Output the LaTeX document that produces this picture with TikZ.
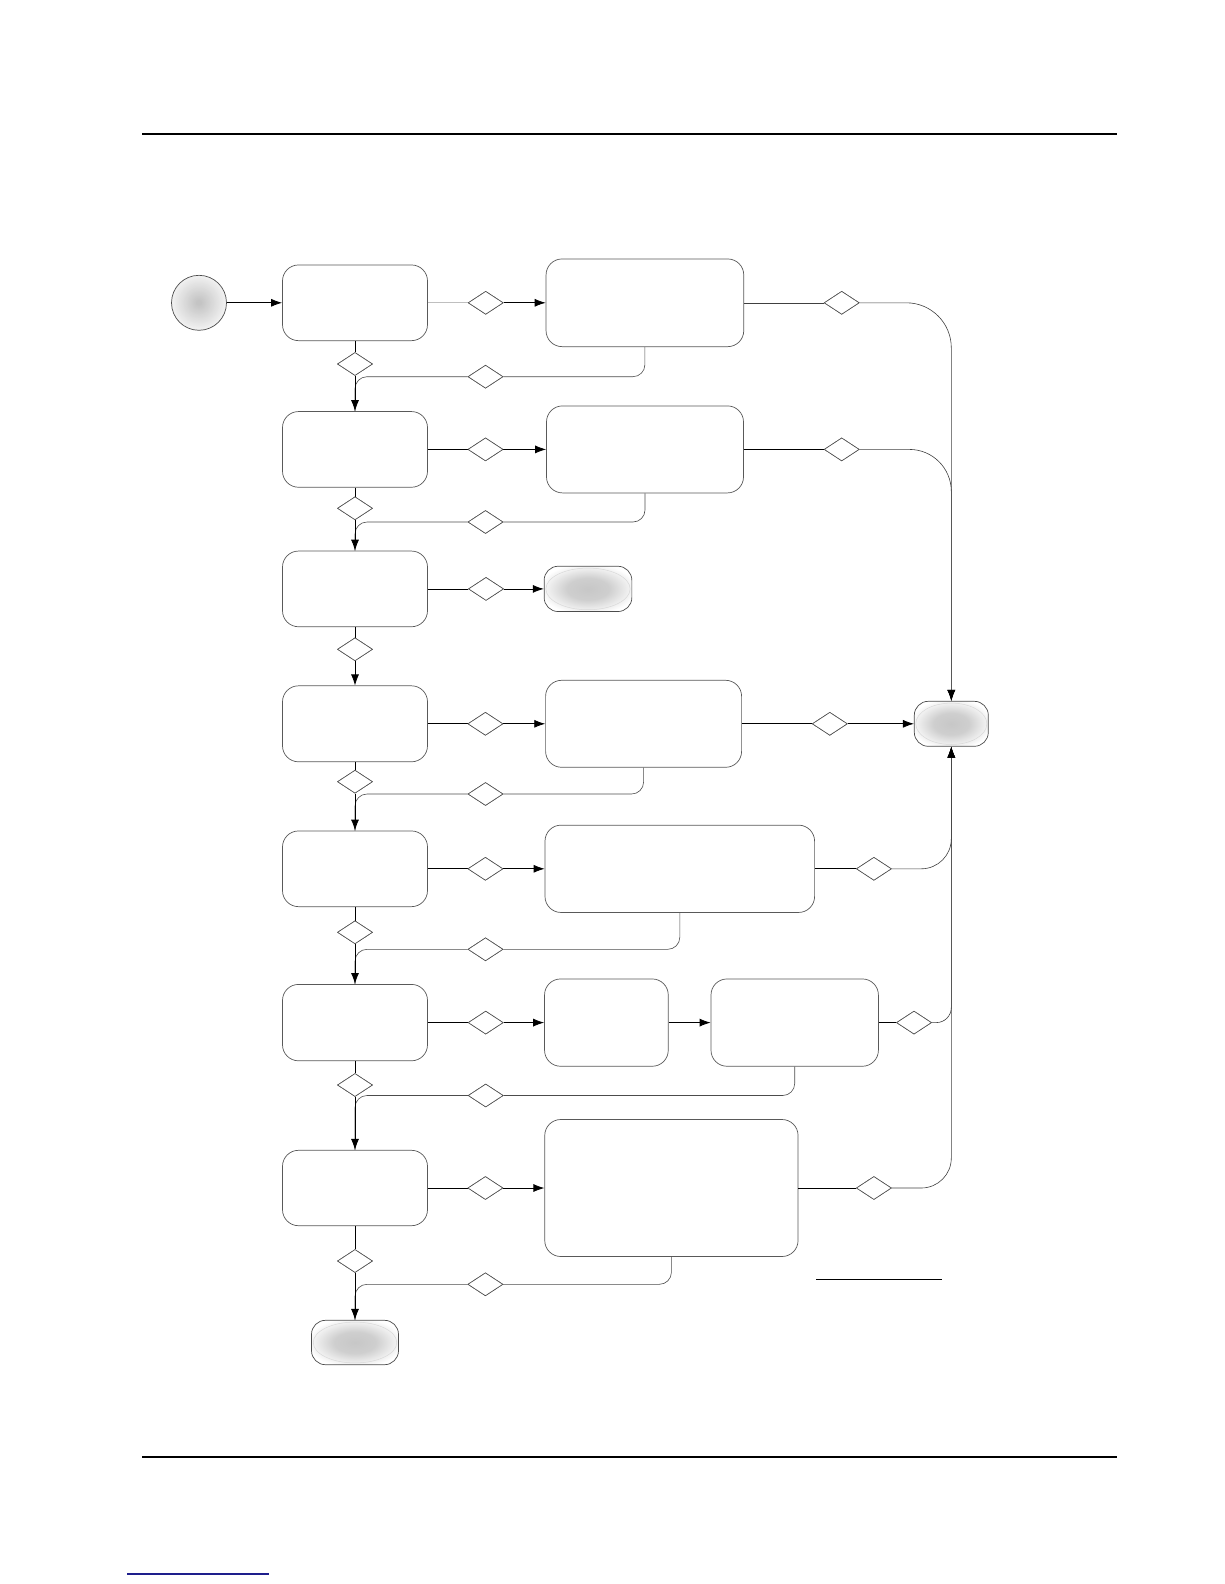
\documentclass[tikz,border=0pt]{standalone}
\usetikzlibrary{shapes.geometric,arrows.meta,calc}
\pgfdeclareradialshading{blob}{\pgfpoint{0bp}{0bp}}{color(0bp)=(black!22); color(12bp)=(black!19); color(28bp)=(white); color(50bp)=(white)}
\begin{document}
\begin{tikzpicture}[x=1pt,y=-1pt,
  box/.style 2 args={draw=black!65, line width=0.7pt, rounded corners=16pt, fill=white, inner sep=0pt, minimum width=#1pt, minimum height=#2pt},
  term/.style 2 args={draw=black!70, line width=0.7pt, rounded corners=14pt, shading=blob, inner sep=0pt, minimum width=#1pt, minimum height=#2pt,
     path picture={\draw[black!15, line width=0.5pt] (path picture bounding box.center) ellipse (#1*0.48pt and #2*0.46pt);}},
  startnode/.style={circle, draw=black!70, line width=0.7pt, inner sep=0pt, minimum size=55pt,
     path picture={\foreach \i [evaluate=\i as \rr using 28-1.25*\i, evaluate=\i as \cc using 5+0.9*\i] in {0,...,20}
        {\fill[black!\cc] (path picture bounding box.center) circle (\rr pt);}}},
  dia/.style={diamond, draw=black!70, line width=0.6pt, fill=white, inner sep=0pt, minimum width=35pt, minimum height=23pt},
  tip/.style={-{Latex[length=11pt,width=8pt,color=black]}},
  arr/.style={draw=black, line width=0.8pt, tip},
  seg/.style={draw=black, line width=0.8pt},
  faint/.style={draw=black!25, line width=0.8pt},
  loopline/.style={draw=black!70, line width=0.6pt, rounded corners=12pt},
  side/.style={draw=black!75, line width=0.6pt},
  rule/.style={draw=black, line width=2.5pt}
]
\useasboundingbox (0,0) rectangle (1224,1584);

% page rules
\coordinate (rtl) at (142,134);
\coordinate (rtr) at (1117,134);
\coordinate (rbl) at (142,1457);
\coordinate (rbr) at (1117,1457);
\draw[rule] (rtl) -- (rtr);
\draw[rule] (rbl) -- (rbr);
\coordinate (lnkl) at (127,1574);
\coordinate (lnkr) at (269,1574);
\draw[draw={rgb,255:red,30;green,30;blue,140}, line width=1.4pt] (lnkl) -- (lnkr);
\coordinate (sgl) at (816,1279);
\coordinate (sgr) at (942,1279);
\draw[line width=0.8pt] (sgl) -- (sgr);

% nodes
\node[startnode] (start) at (199,302.8) {};

\node[box={145}{75.7}] (b11) at (355,302.8) {};
\node[dia] (h1) at (485.7,302.8) {};
\node[box={197.7}{87.7}] (b12) at (644.9,302.8) {};
\node[dia] (r1) at (841.7,302.8) {};
\node[dia] (vd1) at (355,364) {};
\node[dia] (l1) at (485.5,376.7) {};

\node[box={145}{75.7}] (b21) at (355,449.4) {};
\node[dia] (h2) at (485.5,449.4) {};
\node[box={197}{87}] (b22) at (645,449.4) {};
\node[dia] (r2) at (841.7,449.4) {};
\node[dia] (vd2) at (355,508.3) {};
\node[dia] (l2) at (485.5,522) {};

\node[box={145}{75.7}] (b31) at (355,588.9) {};
\node[dia] (h3) at (486,588.9) {};
\node[term={87.7}{45.3}] (e3) at (588,588.9) {};
\node[dia] (vd3) at (355,649.3) {};

\node[box={145}{76}] (b41) at (355,723.8) {};
\node[dia] (h4) at (485.4,723.8) {};
\node[box={196}{87}] (b42) at (643.6,723.8) {};
\node[dia] (r4) at (829.8,723.8) {};
\node[term={74}{45}] (fin) at (951.3,723.8) {};
\node[dia] (vd4) at (355,781.7) {};
\node[dia] (l4) at (485.5,794) {};

\node[box={145}{75.7}] (b51) at (355,868.8) {};
\node[dia] (h5) at (485.4,868.8) {};
\node[box={269.6}{87.3}] (b52) at (679.8,868.8) {};
\node[dia] (r5) at (873.9,868.8) {};
\node[dia] (vd5) at (355,932.3) {};
\node[dia] (l5) at (485.5,949.3) {};

\node[box={145}{76.4}] (b61) at (355,1022.6) {};
\node[dia] (h6) at (485.7,1022.6) {};
\node[box={123.7}{87.3}] (b62) at (606.4,1022.6) {};
\node[box={167.4}{87.3}] (b63) at (794.7,1022.6) {};
\node[dia] (r6) at (914,1022.6) {};
\node[dia] (vd6) at (355,1085) {};
\node[dia] (l6) at (485.7,1095.5) {};

\node[box={145}{75.4}] (b71) at (355,1188) {};
\node[dia] (h7) at (485.4,1188) {};
\node[box={253.3}{137}] (b72) at (671.4,1188) {};
\node[dia] (r7) at (873.9,1188) {};
\node[dia] (vd7) at (355,1261) {};
\node[dia] (l7) at (485.4,1284.3) {};

\node[term={87}{44.4}] (end) at (355,1342.5) {};

% loops (drawn first so main arrows sit on top)
\draw[loopline] (b12.south) |- (l1.east);
\draw[loopline] (l1.west) -| (b21.north);
\draw[loopline] (b22.south) |- (l2.east);
\draw[loopline] (l2.west) -| (b31.north);
\draw[loopline] (b42.south) |- (l4.east);
\draw[loopline] (l4.west) -| (b51.north);
\draw[loopline] (b52.south) |- (l5.east);
\draw[loopline] (l5.west) -| (b61.north);
\draw[loopline] (b63.south) |- (l6.east);
\draw[loopline] (l6.west) -| (b71.north);
\draw[loopline] (b72.south) |- (l7.east);
\draw[loopline] (l7.west) -| (end.north);

% right side to final node
\draw[side, rounded corners=45pt, tip] (r1.east) -| (fin.north);
\draw[side, rounded corners=42pt, tip] (r2.east) -| (fin.north);
\draw[side, rounded corners=30pt, tip] (r5.east) -| (fin.south);
\draw[side, rounded corners=15pt, tip] (r6.east) -| (fin.south);
\draw[side, rounded corners=30pt, tip] (r7.east) -| (fin.south);

% start
\draw[arr] (start) -- (b11);

% row 1
\draw[faint] (b11) -- (h1);
\draw[arr] (h1) -- (b12);
\draw[side] (b12) -- (r1);
% row 2
\draw[seg] (b21) -- (h2);
\draw[arr] (h2) -- (b22);
\draw[seg] (b22) -- (r2);
% row 3
\draw[seg] (b31) -- (h3);
\draw[arr] (h3) -- (e3);
% row 4
\draw[seg] (b41) -- (h4);
\draw[arr] (h4) -- (b42);
\draw[seg] (b42) -- (r4);
\draw[arr] (r4) -- (fin);
% row 5
\draw[seg] (b51) -- (h5);
\draw[arr] (h5) -- (b52);
\draw[seg] (b52) -- (r5);
% row 6
\draw[seg] (b61) -- (h6);
\draw[arr] (h6) -- (b62);
\draw[arr] (b62) -- (b63);
\draw[seg] (b63) -- (r6);
% row 7
\draw[seg] (b71) -- (h7);
\draw[arr] (h7) -- (b72);
\draw[seg] (b72) -- (r7);

% main vertical spine
\draw[seg] (b11) -- (vd1);
\draw[arr] (vd1) -- (b21);
\draw[seg] (b21) -- (vd2);
\draw[arr] (vd2) -- (b31);
\draw[seg] (b31) -- (vd3);
\draw[arr] (vd3) -- (b41);
\draw[seg] (b41) -- (vd4);
\draw[arr] (vd4) -- (b51);
\draw[seg] (b51) -- (vd5);
\draw[arr] (vd5) -- (b61);
\draw[seg] (b61) -- (vd6);
\draw[arr] (vd6) -- (b71);
\draw[seg] (b71) -- (vd7);
\draw[arr] (vd7) -- (end);

% redraw diamonds on top of lines
\foreach \d in {h1,r1,vd1,l1,h2,r2,vd2,l2,h3,vd3,h4,r4,vd4,l4,h5,r5,vd5,l5,h6,r6,vd6,l6,h7,r7,vd7,l7}
  \node[dia] at (\d.center) {};
\end{tikzpicture}
\end{document}
